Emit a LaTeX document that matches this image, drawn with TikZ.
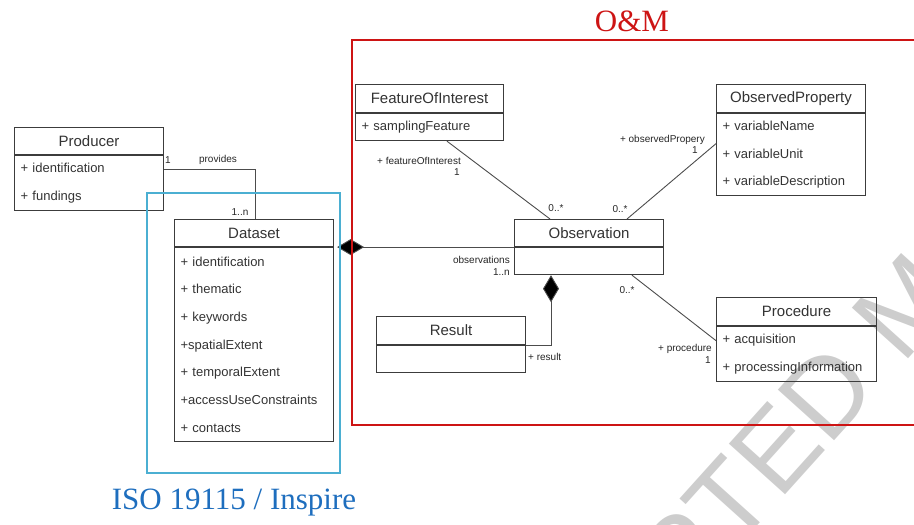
\documentclass[tikz,border=0pt]{standalone}
\usepackage{fontspec}
\setsansfont{Liberation Sans}
\newfontfamily\titlefont{Liberation Serif}
\usepackage{xcolor}
\definecolor{umlgray}{RGB}{60,60,60}
\definecolor{omred}{RGB}{205,20,20}
\definecolor{isoblue}{RGB}{75,175,210}
\definecolor{isotext}{RGB}{30,110,190}
\definecolor{wmgray}{RGB}{205,205,205}
\usetikzlibrary{arrows.meta,positioning}

\begin{document}
\begin{tikzpicture}[x=1pt,y=-1pt,
  cls/.style={draw=umlgray,line width=1.1pt,minimum height=27pt,inner sep=0pt,
    font=\sffamily\fontsize{15}{18}\selectfont,text=black!80},
  attr/.style={draw=umlgray,line width=1.1pt,inner xsep=6pt,inner ysep=0pt,align=left,
    font=\sffamily\fontsize{13}{27.7}\selectfont,text=black!80},
  lbl/.style={font=\sffamily\fontsize{10}{12}\selectfont,inner sep=0pt,text=black!85},
  ln/.style={draw=black!70,line width=0.9pt},
  comp/.style={ln,{Diamond[length=27pt,width=16pt,fill=black]}-},
  frame/.style={line width=2.2pt},
  big/.style={font=\titlefont\fontsize{31}{34}\selectfont}
]
\useasboundingbox (0,0) rectangle (914,525);
% watermark
\begin{scope}
  \clip (0,0) rectangle (914,525);
  \node[font=\sffamily\fontsize{110}{110}\selectfont,text=wmgray,rotate=48] (wm) at (907,304) {ACCEPTED MANUSCRIPT};
\end{scope}

% classes
\node[cls,minimum width=149pt,anchor=north west] (prod) at (14,127) {Producer};
\node[attr,text width=137pt,minimum height=55pt,anchor=north] (prodA) at (prod.south) {+ identification\\+ fundings};

\node[cls,minimum width=159pt,anchor=north west] (ds) at (174,219) {Dataset};
\node[attr,text width=147pt,minimum height=194pt,anchor=north] (dsA) at (ds.south)
  {+ identification\\+ thematic\\+ keywords\\+spatialExtent\\+ temporalExtent\\+accessUseConstraints\\+ contacts};

\node[cls,minimum width=148pt,minimum height=28pt,anchor=north west] (foi) at (355,84) {FeatureOfInterest};
\node[attr,text width=136pt,minimum height=27pt,anchor=north] (foiA) at (foi.south) {+ samplingFeature};

\node[cls,minimum width=149pt,minimum height=28pt,anchor=north west] (op) at (716,84) {ObservedProperty};
\node[attr,text width=137pt,minimum height=82pt,anchor=north] (opA) at (op.south)
  {+ variableName\\+ variableUnit\\+ variableDescription};

\node[cls,minimum width=149pt,anchor=north west] (obs) at (514,219) {Observation};
\node[attr,text width=137pt,minimum height=27pt,anchor=north] (obsA) at (obs.south) {};

\node[cls,minimum width=149pt,minimum height=28pt,anchor=north west] (res) at (376,316) {Result};
\node[attr,text width=137pt,minimum height=27pt,anchor=north] (resA) at (res.south) {};

\node[cls,minimum width=160pt,minimum height=28pt,anchor=north west] (proc) at (716,297) {Procedure};
\node[attr,text width=148pt,minimum height=55pt,anchor=north] (procA) at (proc.south)
  {+ acquisition\\+ processingInformation};

% associations
\draw[ln] ([yshift=13.5pt]prodA.east) -| ([xshift=81pt]ds.north west);
\draw[ln] ([xshift=92pt]foiA.south west) -- ([xshift=36pt]obs.north west);
\draw[ln] ([yshift=11pt]opA.west) -- ([xshift=113pt]obs.north west);
\draw[ln] ([xshift=118pt]obsA.south west) -- ([yshift=13.5pt]procA.west);
\draw[comp] ([xshift=3pt]ds.south east) -- (obs.south west);
\draw[comp] ([xshift=37pt]obsA.south west) |- (res.south east);

% role names and multiplicities
\node[lbl] (m1) at (168,160) {1};
\node[lbl] (prov) at (218,160) {provides};
\node[lbl] (m2) at (240,212) {1..n};
\node[lbl,anchor=east] (foiRole) at (461,161) {+ featureOfInterest};
\node[lbl,anchor=east] (foiM) at (460,172) {1};
\node[lbl] (obsM1) at (556,208) {0..*};
\node[lbl,anchor=east] (opRole) at (705,140) {+ observedPropery};
\node[lbl,anchor=east] (opM) at (698,150) {1};
\node[lbl] (obsM2) at (620,209) {0..*};
\node[lbl,anchor=east] (dsRole) at (510,260) {observations};
\node[lbl,anchor=east] (dsM) at (510,272) {1..n};
\node[lbl] (obsM3) at (627,290) {0..*};
\node[lbl,anchor=east] (procRole) at (712,349) {+ procedure};
\node[lbl,anchor=east] (procM) at (711,360) {1};
\node[lbl,anchor=west] (resRole) at (528,357) {+ result};

% package frames
\draw[frame,omred] (352,40) rectangle (920,425);
\draw[frame,isoblue] (147,193) rectangle (340,473);
\node[big,text=omred] (om) at (632,21) {O\&M};
\node[big,text=isotext] (iso) at (234,503) {ISO 19115 / Inspire};
\end{tikzpicture}
\end{document}
